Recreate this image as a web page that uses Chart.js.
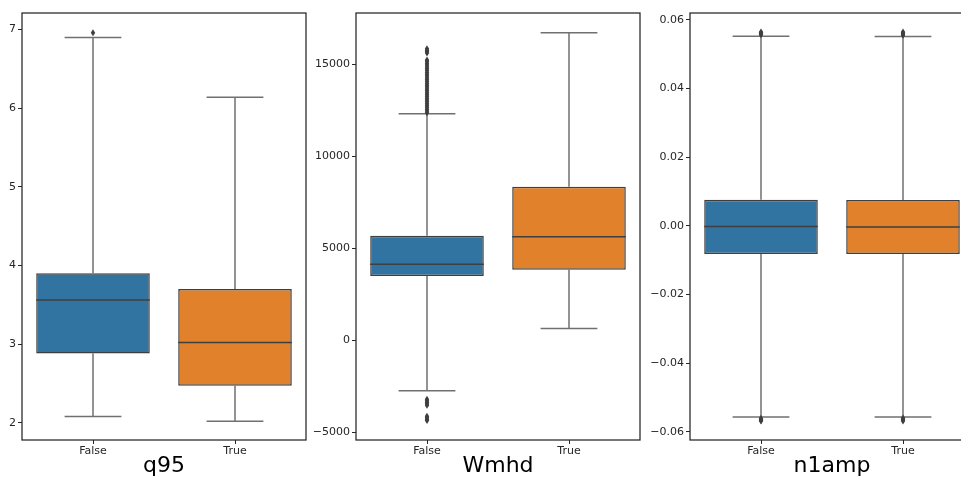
<!DOCTYPE html>
<html lang="en">
<head>
  <meta charset="utf-8">
  <title>Box plots</title>
  <script src="https://cdnjs.cloudflare.com/ajax/libs/Chart.js/4.4.1/chart.umd.min.js"></script>
  <style>
    body {
      margin: 0;
      width: 961px;
      height: 478px;
      overflow: hidden;
      background: #fff;
      position: relative;
    }

    canvas {
      position: absolute;
      top: 0;
    }
  </style>
</head>

<body>
  <canvas id="c1" width="346" height="478" style="left:-38px"></canvas>
  <canvas id="c2" width="346" height="478" style="left:296px"></canvas>
  <canvas id="c3" width="346" height="478" style="left:630px"></canvas>

<script>
  // categories (same for all three panels)
  const groups = ['False', 'True'];
  const boxColors = ['#3274a1', '#e1812c'];

  // q95
  const q95Low = [2.08, 2.02];
  const q95Q1 = [2.88, 2.47];
  const q95Median = [3.56, 3.02];
  const q95Q3 = [3.90, 3.70];
  const q95High = [6.90, 6.14];
  const q95Outliers = [[6.96], []];
  const q95Ticks = [2, 3, 4, 5, 6, 7];
  const q95Range = [1.78, 7.21];

  // Wmhd
  const wmhdLow = [-2760, 630];
  const wmhdQ1 = [3480, 3820];
  const wmhdMedian = [4120, 5610];
  const wmhdQ3 = [5670, 8340];
  const wmhdHigh = [12300, 16710];
  const wmhdOutliers = [
    [12350, 12450, 12550, 12650, 12750, 12850, 12950, 13050, 13150, 13250,
     13350, 13450, 13550, 13650, 13750, 13850, 13950, 14050, 14150, 14250,
     14350, 14450, 14550, 14650, 14750, 14850, 14950, 15050, 15150, 15220,
     15600, 15680, 15760, 15830,
     -3220, -3300, -3380, -3460, -3540, -4140, -4220, -4300, -4370],
    []
  ];
  const wmhdTicks = [-5000, 0, 5000, 10000, 15000];
  const wmhdRange = [-5433, 17779];

  // n1amp
  const n1Low = [-0.0557, -0.0557];
  const n1Q1 = [-0.0082, -0.0082];
  const n1Median = [-0.0002, -0.0004];
  const n1Q3 = [0.0076, 0.0075];
  const n1High = [0.0552, 0.0551];
  const n1Outliers = [
    [0.0556, 0.0559, 0.0562, 0.0564, -0.0561, -0.0564, -0.0567, -0.0569],
    [0.0555, 0.0558, 0.0561, 0.0564, -0.0560, -0.0563, -0.0566, -0.0569]
  ];
  const n1Ticks = [-0.06, -0.04, -0.02, 0.00, 0.02, 0.04, 0.06];
  const n1Range = [-0.0624, 0.06195];

  const edgeColor = '#3f3f3f';
  const whiskerColor = '#707070';
  const textColor = '#262626';

  function minus(s) {
    return s.replace('-', '\u2212');
  }

  // draws whiskers, caps, medians and outliers from the scales
  function boxExtras(low, median, high, outliers) {
    return {
      id: 'boxExtras',
      beforeDatasetsDraw: function (chart) {
        const ctx = chart.ctx;
        const x = chart.scales.x;
        const y = chart.scales.y;
        const meta = chart.getDatasetMeta(0);
        ctx.save();
        ctx.strokeStyle = whiskerColor;
        ctx.lineWidth = 1.5;
        for (let i = 0; i < groups.length; i++) {
          const cx = x.getPixelForValue(i);
          const bar = meta.data[i];
          const capHalf = bar.width / 4;
          const top = Math.min(bar.y, bar.base);
          const bottom = Math.max(bar.y, bar.base);
          const yHi = y.getPixelForValue(high[i]);
          const yLo = y.getPixelForValue(low[i]);
          ctx.beginPath();
          ctx.moveTo(cx, top);
          ctx.lineTo(cx, yHi);
          ctx.moveTo(cx - capHalf, yHi);
          ctx.lineTo(cx + capHalf, yHi);
          ctx.moveTo(cx, bottom);
          ctx.lineTo(cx, yLo);
          ctx.moveTo(cx - capHalf, yLo);
          ctx.lineTo(cx + capHalf, yLo);
          ctx.stroke();
        }
        ctx.restore();
      },
      afterDatasetsDraw: function (chart) {
        const ctx = chart.ctx;
        const x = chart.scales.x;
        const y = chart.scales.y;
        const meta = chart.getDatasetMeta(0);
        ctx.save();
        for (let i = 0; i < groups.length; i++) {
          const cx = x.getPixelForValue(i);
          const half = meta.data[i].width / 2;
          const ym = y.getPixelForValue(median[i]);
          ctx.strokeStyle = edgeColor;
          ctx.lineWidth = 1.5;
          ctx.beginPath();
          ctx.moveTo(cx - half, ym);
          ctx.lineTo(cx + half, ym);
          ctx.stroke();
          // thin diamonds
          ctx.fillStyle = edgeColor;
          outliers[i].forEach(function (v) {
            const py = y.getPixelForValue(v);
            ctx.beginPath();
            ctx.moveTo(cx, py - 3.5);
            ctx.lineTo(cx + 2.2, py);
            ctx.lineTo(cx, py + 3.5);
            ctx.lineTo(cx - 2.2, py);
            ctx.closePath();
            ctx.fill();
          });
        }
        ctx.restore();
      },
      afterDraw: function (chart) {
        const a = chart.chartArea;
        const ctx = chart.ctx;
        ctx.save();
        ctx.strokeStyle = textColor;
        ctx.lineWidth = 1.25;
        ctx.strokeRect(a.left, a.top, a.right - a.left, a.bottom - a.top);
        ctx.restore();
      }
    };
  }

  function makePanel(id, title, low, q1, median, q3, high, outliers, ticks, range, fmt) {
    const boxes = [];
    for (let i = 0; i < groups.length; i++) {
      boxes.push([q1[i], q3[i]]);
    }
    return new Chart(document.getElementById(id), {
      type: 'bar',
      data: {
        labels: groups,
        datasets: [{
          data: boxes,
          backgroundColor: boxColors,
          borderColor: edgeColor,
          borderWidth: 1.5,
          borderSkipped: false,
          barPercentage: 0.8,
          categoryPercentage: 1.0
        }]
      },
      options: {
        responsive: false,
        animation: false,
        layout: { padding: { left: 0, right: 2, top: 13, bottom: 0 } },
        plugins: {
          legend: { display: false },
          tooltip: { enabled: false }
        },
        scales: {
          x: {
            afterFit: function (scale) { scale.height = 38; },
            grid: {
              offset: false,
              drawOnChartArea: false,
              tickLength: 4,
              color: textColor
            },
            border: { display: false },
            ticks: {
              color: textColor,
              padding: 1,
              font: { family: 'DejaVu Sans', size: 11 }
            },
            title: {
              display: true,
              text: title,
              color: '#000',
              padding: { top: 0, bottom: 1 },
              font: { family: 'DejaVu Sans', size: 22, lineHeight: 1.0 }
            }
          },
          y: {
            min: range[0],
            max: range[1],
            afterFit: function (scale) { scale.width = 60; },
            afterBuildTicks: function (scale) {
              scale.ticks = ticks.map(function (v) { return { value: v }; });
            },
            grid: {
              drawOnChartArea: false,
              tickLength: 4,
              color: textColor
            },
            border: { display: false },
            ticks: {
              color: textColor,
              padding: 2,
              font: { family: 'DejaVu Sans', size: 11 },
              callback: fmt
            }
          }
        }
      },
      plugins: [boxExtras(low, median, high, outliers)]
    });
  }

  makePanel('c1', 'q95', q95Low, q95Q1, q95Median, q95Q3, q95High, q95Outliers,
    q95Ticks, q95Range, function (v) { return String(v); });
  makePanel('c2', 'Wmhd', wmhdLow, wmhdQ1, wmhdMedian, wmhdQ3, wmhdHigh, wmhdOutliers,
    wmhdTicks, wmhdRange, function (v) { return minus(String(v)); });
  makePanel('c3', 'n1amp', n1Low, n1Q1, n1Median, n1Q3, n1High, n1Outliers,
    n1Ticks, n1Range, function (v) { return minus(v.toFixed(2)); });
</script>
</body>
</html>
